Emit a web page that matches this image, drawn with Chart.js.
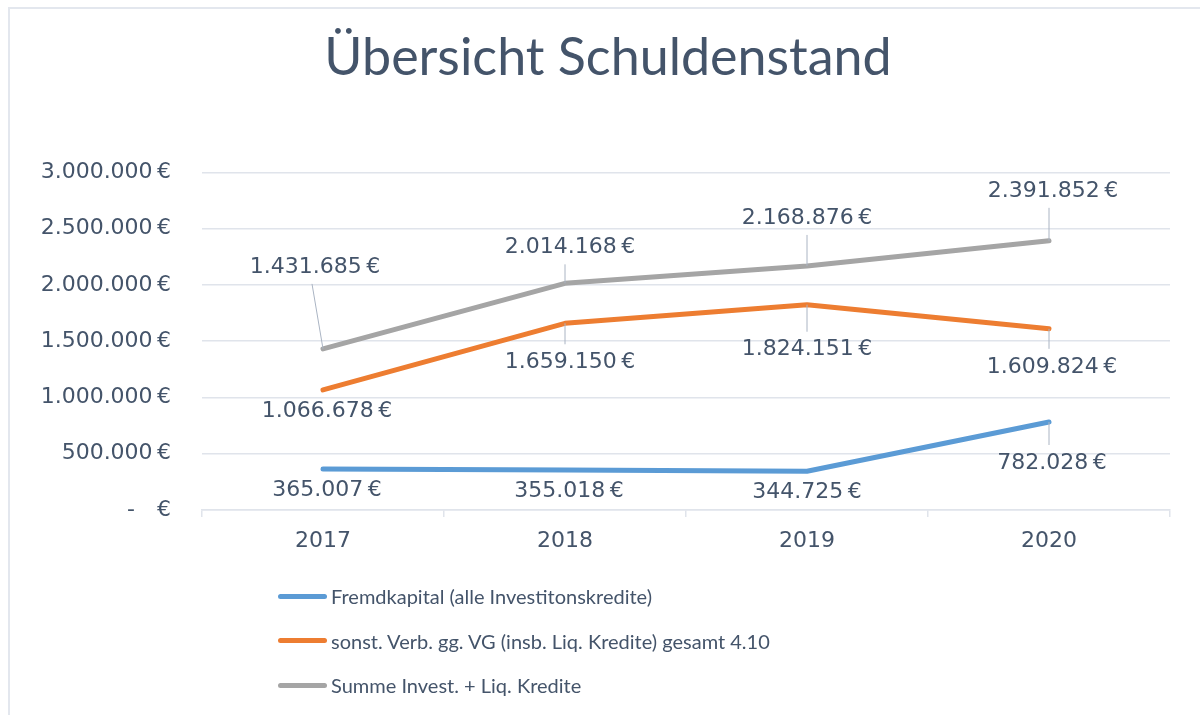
<!DOCTYPE html>
<html lang="de">
<head>
<meta charset="utf-8">
<title>Übersicht Schuldenstand</title>
<script src="https://cdn.jsdelivr.net/npm/chart.js@4"></script>
<style>
    html, body { margin: 0; padding: 0; width: 1200px; height: 715px; overflow: hidden; background: #fff; }
    .frame { position: absolute; left: 8px; top: 7px; width: 1300px; height: 800px;
             border-left: 2px solid #e3e7ee; border-top: 2px solid #e3e7ee; }
    #chart { position: absolute; left: 0; top: 0; }
    #legend { position: absolute; left: 278px; top: 574px; font-family: Lato, "Open Sans", sans-serif;
              font-size: 20px; color: #44546a; }
    #legend .item { display: flex; align-items: center; height: 44.5px; white-space: nowrap; }
    #legend .swatch { width: 49px; height: 5px; border-radius: 3px; margin-right: 4px; }
</style>
</head>
<body>
<div class="frame"></div>
<canvas id="chart" width="1200" height="715"></canvas>
<div id="legend"></div>

<script>
// Daten
const years = ['2017', '2018', '2019', '2020'];
const fremdkapital = [365007, 355018, 344725, 782028];
const sonstVerb = [1066678, 1659150, 1824151, 1609824];
const summe = [1431685, 2014168, 2168876, 2391852];
const seriesNames = [
    'Fremdkapital (alle Investitonskredite)',
    'sonst. Verb. gg. VG (insb. Liq. Kredite) gesamt 4.10',
    'Summe Invest. + Liq. Kredite'
];
const yMin = 0;
const yMax = 3000000;
const yStep = 500000;

// Styles
const textColor = '#44546a';
const gridColor = '#e0e4eb';
const leaderColor = '#aab4c3';
const seriesColors = ['#5b9bd5', '#ed7d31', '#a5a5a5'];
const numberFont = { family: '"DejaVu Sans", sans-serif', size: 22 };

// label offset relative to the point [dx, dy], one per point
const labelOffsets = [
    [[4, 21], [4, 21], [0, 21], [3, 41]],
    [[4, 21], [5, 39], [0, 45], [3, 38]],
    [[-8, -82], [5, -36], [0, -48], [4, -50]]
];

function formatEuro(v) {
    if (v === 0) return '-\u2009\u2009\u2009\u2009\u2009€';
    return String(Math.round(v)).replace(/\B(?=(\d{3})+(?!\d))/g, '.') + '\u2009€';
}

// draws the value labels with their leader lines
const valueLabels = {
    id: 'valueLabels',
    afterLayout(chart) {
        // title sits a bit right of the canvas centre, like in the original
        if (chart.titleBlock) chart.titleBlock.left = 46;
    },
    afterDatasetsDraw(chart) {
        const ctx = chart.ctx;
        ctx.save();
        ctx.font = `${numberFont.size}px ${numberFont.family}`;
        ctx.textAlign = 'center';
        ctx.textBaseline = 'middle';
        chart.data.datasets.forEach((ds, di) => {
            const meta = chart.getDatasetMeta(di);
            meta.data.forEach((pt, i) => {
                const [dx, dy] = labelOffsets[di][i];
                const lx = pt.x + dx;
                const ly = pt.y + dy;
                if (Math.abs(dy) > 30) {
                    const endY = dy < 0 ? ly + 17 : ly - 18;
                    const endX = dx < -5 ? lx - 3 : pt.x;
                    ctx.beginPath();
                    ctx.strokeStyle = leaderColor;
                    ctx.lineWidth = 1;
                    ctx.moveTo(pt.x, pt.y);
                    ctx.lineTo(endX, endY);
                    ctx.stroke();
                }
                ctx.fillStyle = textColor;
                ctx.fillText(formatEuro(ds.data[i]), lx, ly);
            });
        });
        ctx.restore();
    }
};

const datasets = [fremdkapital, sonstVerb, summe].map((values, i) => ({
    label: seriesNames[i],
    data: values,
    borderColor: seriesColors[i],
    backgroundColor: seriesColors[i],
    borderWidth: 5,
    borderCapStyle: 'round',
    borderJoinStyle: 'round',
    pointRadius: 0,
    tension: 0
}));

const chart = new Chart(document.getElementById('chart'), {
    type: 'line',
    data: { labels: years, datasets: datasets },
    options: {
        responsive: false,
        animation: false,
        devicePixelRatio: 1,
        layout: { padding: { left: 0, right: 30, top: 0, bottom: 155 } },
        plugins: {
            legend: { display: false },
            tooltip: { enabled: false },
            title: {
                display: true,
                text: 'Übersicht Schuldenstand',
                color: textColor,
                font: { family: 'Lato, sans-serif', size: 52, weight: '400' },
                padding: { top: 27, bottom: 83 }
            }
        },
        scales: {
            x: {
                offset: true,
                grid: {
                    offset: true,
                    drawOnChartArea: false,
                    drawTicks: true,
                    tickLength: 7,
                    color: gridColor,
                    lineWidth: 1.5
                },
                border: { display: true, color: gridColor, width: 1.5 },
                ticks: { color: textColor, font: numberFont, padding: 11 },
                afterFit(scale) { scale.height = 50; }
            },
            y: {
                min: yMin,
                max: yMax,
                grid: { color: gridColor, lineWidth: 1.5, drawTicks: false },
                border: { display: false },
                ticks: {
                    stepSize: yStep,
                    color: textColor,
                    font: numberFont,
                    padding: 31,
                    callback: v => formatEuro(v)
                },
                afterFit(scale) { scale.width = 202; }
            }
        }
    },
    plugins: [valueLabels]
});

// legend below the chart, built from the datasets
const legendBox = document.getElementById('legend');
chart.data.datasets.forEach(ds => {
    const item = document.createElement('div');
    item.className = 'item';
    const swatch = document.createElement('span');
    swatch.className = 'swatch';
    swatch.style.background = ds.borderColor;
    const text = document.createElement('span');
    text.textContent = ds.label;
    item.appendChild(swatch);
    item.appendChild(text);
    legendBox.appendChild(item);
});
</script>
</body>
</html>
